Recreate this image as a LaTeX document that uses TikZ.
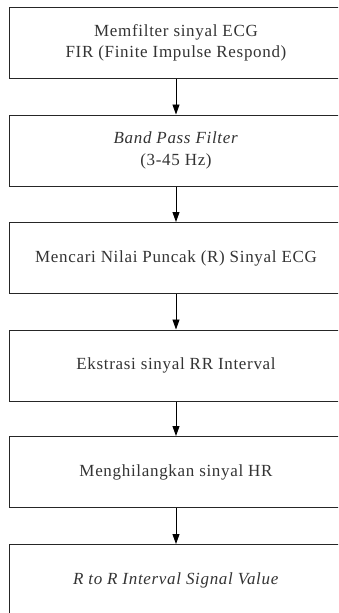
\documentclass[tikz,border=0pt]{standalone}
\usepackage{fontspec}
\setmainfont{Liberation Serif}[LetterSpace=4]
\usetikzlibrary{arrows.meta}
\begin{document}
\begin{tikzpicture}[x=1pt,y=-1pt,
  stepbox/.style={draw=black!85, line width=1pt, minimum width=334pt, minimum height=71pt,
    inner sep=0pt, align=center, font=\fontsize{17}{21.5}\selectfont, text=black!80},
  flow/.style={draw=black, line width=0.9pt, -{Triangle[length=10pt,width=7pt]}}]
\useasboundingbox (0,0) rectangle (338,613);
\clip (0,0) rectangle (338,613);
\node[stepbox] (b1) at (176,43) {Memfilter sinyal ECG\\FIR (Finite Impulse Respond)};
\node[stepbox] (b2) at (176,150.5) {\textit{Band Pass Filter}\\(3-45 Hz)};
\node[stepbox] (b3) at (176,258) {Mencari Nilai Puncak (R) Sinyal ECG};
\node[stepbox] (b4) at (176,365.5) {Ekstrasi sinyal RR Interval};
\node[stepbox] (b5) at (176,472) {Menghilangkan sinyal HR};
\node[stepbox] (b6) at (176,580) {\textit{R to R Interval Signal Value}};
\draw[flow] (b1) -- (b2);
\draw[flow] (b2) -- (b3);
\draw[flow] (b3) -- (b4);
\draw[flow] (b4) -- (b5);
\draw[flow] (b5) -- (b6);
\end{tikzpicture}
\end{document}
